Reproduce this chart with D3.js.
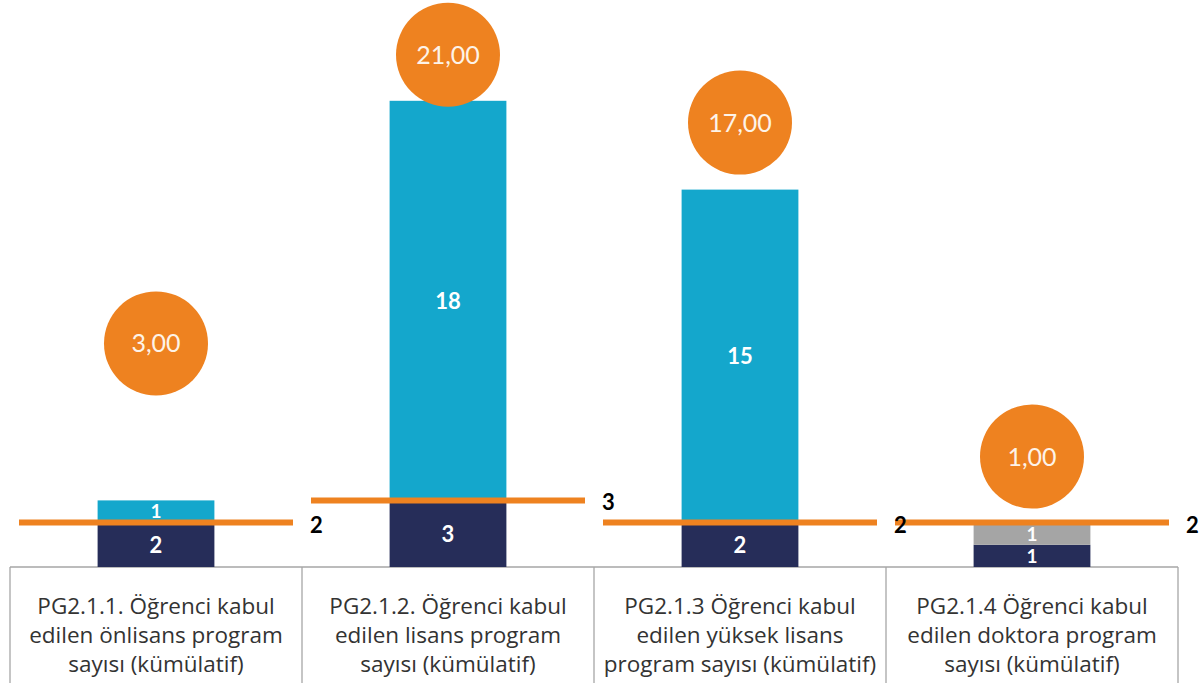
<!DOCTYPE html>
<html>
<head>
<meta charset="utf-8">
<script src="https://cdn.jsdelivr.net/npm/d3@7"></script>
<style>
  body { margin: 0; background: #fff; }
  svg { display: block; font-family: Lato, "Open Sans", sans-serif; }
</style>
</head>
<body>
<div id="container"></div>
<script>
const width = 1202,
  height = 688,
  margin = {top: 12, bottom: 121, left: 10, right: 24};

// chart values
const categories = ["PG2.1.1", "PG2.1.2", "PG2.1.3", "PG2.1.4"];
const categoryLines = [
  ["PG2.1.1. Öğrenci kabul", "edilen önlisans program", "sayısı (kümülatif)"],
  ["PG2.1.2. Öğrenci kabul", "edilen lisans program", "sayısı (kümülatif)"],
  ["PG2.1.3 Öğrenci kabul", "edilen yüksek lisans", "program sayısı (kümülatif)"],
  ["PG2.1.4 Öğrenci kabul", "edilen doktora program", "sayısı (kümülatif)"]
];
const baseValues = [2, 3, 2, 1];
const extraValues = [1, 18, 15, 0];
const otherValues = [0, 0, 0, 1];
const targetValues = [2, 3, 2, 2];
const totalValues = [3, 21, 17, 1];

// bubble label distance above the stack (layout, px)
const bubbleLift = [157, 46, 67, 66];

const colorScale = d3.scaleOrdinal()
  .domain(["base", "extra", "other"])
  .range(["#262d59", "#14a7cc", "#a5a5a5"]);
const orange = "#ee8220";

const rows = categories.map((c, i) => ({
  cat: c, i,
  base: baseValues[i], extra: extraValues[i], other: otherValues[i]
}));

const stacked = d3.stack().keys(["base", "extra", "other"])(rows);

const xScale = d3.scaleBand()
  .domain(categories)
  .range([margin.left, width - margin.right])
  .paddingInner(0).paddingOuter(0);

const yScale = d3.scaleLinear()
  .domain([0, 25])
  .range([height - margin.bottom, height - margin.bottom - 25 * 22.2]);

const barW = xScale.bandwidth() * 0.4;
const lineInset = 9;

const svg = d3.select("#container")
  .append("svg")
  .attr("width", width)
  .attr("height", height);

// category table
const tableTop = yScale(0);
const tableBottom = 683;
const table = svg.append("g").attr("class", "table");
table.append("line")
  .attr("x1", margin.left).attr("x2", width - margin.right)
  .attr("y1", tableTop).attr("y2", tableTop)
  .attr("stroke", "#a6a6a6").attr("stroke-width", 1.3);
table.selectAll("line.sep")
  .data(categories.concat(["end"]))
  .join("line")
  .attr("class", "sep")
  .attr("x1", (d, i) => i < categories.length ? xScale(d) : xScale.range()[1])
  .attr("x2", (d, i) => i < categories.length ? xScale(d) : xScale.range()[1])
  .attr("y1", tableTop).attr("y2", tableBottom)
  .attr("stroke", "#a6a6a6").attr("stroke-width", 1.3);

table.selectAll("text.cat")
  .data(categories)
  .join("text")
  .attr("class", "cat")
  .attr("text-anchor", "middle")
  .attr("fill", "#333")
  .attr("font-family", "'Open Sans', sans-serif")
  .attr("font-size", 22.5)
  .each(function(d, i) {
    d3.select(this).selectAll("tspan")
      .data(categoryLines[i])
      .join("tspan")
      .attr("x", xScale(d) + xScale.bandwidth() / 2)
      .attr("y", (t, j) => tableTop + 47 + j * 29)
      .text(t => t);
  });

// stacked bars
const layers = svg.selectAll("g.layer")
  .data(stacked)
  .join("g")
  .attr("class", "layer")
  .attr("fill", d => colorScale(d.key));

layers.selectAll("rect")
  .data(d => d)
  .join("rect")
  .attr("x", d => xScale(d.data.cat) + (xScale.bandwidth() - barW) / 2)
  .attr("y", d => yScale(d[1]))
  .attr("width", barW)
  .attr("height", d => yScale(d[0]) - yScale(d[1]));

layers.selectAll("text")
  .data(d => d.filter(s => s[1] - s[0] > 0))
  .join("text")
  .attr("x", d => xScale(d.data.cat) + xScale.bandwidth() / 2)
  .attr("y", d => (yScale(d[0]) + yScale(d[1])) / 2)
  .attr("dy", "0.36em")
  .attr("text-anchor", "middle")
  .attr("fill", "#fff")
  .attr("font-weight", "bold")
  .attr("font-size", d => (yScale(d[0]) - yScale(d[1])) < 26 ? 19 : 22)
  .text(d => d[1] - d[0]);

// target lines
const targets = svg.append("g").attr("class", "targets");
targets.selectAll("line")
  .data(targetValues)
  .join("line")
  .attr("x1", (d, i) => xScale(categories[i]) + lineInset)
  .attr("x2", (d, i) => xScale(categories[i]) + xScale.bandwidth() - lineInset)
  .attr("y1", d => yScale(d))
  .attr("y2", d => yScale(d))
  .attr("stroke", orange)
  .attr("stroke-width", 6);

targets.selectAll("text")
  .data(targetValues)
  .join("text")
  .attr("x", (d, i) => xScale(categories[i]) + xScale.bandwidth() - lineInset + 17)
  .attr("y", d => yScale(d) + 2)
  .attr("dy", "0.36em")
  .attr("fill", "#000")
  .attr("font-weight", "bold")
  .attr("font-size", 22)
  .text(d => d);

// total bubbles
const stackTop = rows.map(r => r.base + r.extra + r.other);
const bubbles = svg.selectAll("g.bubble")
  .data(totalValues)
  .join("g")
  .attr("class", "bubble")
  .attr("transform", (d, i) => `translate(${xScale(categories[i]) + xScale.bandwidth() / 2},${yScale(stackTop[i]) - bubbleLift[i]})`);

bubbles.append("circle")
  .attr("r", 52)
  .attr("fill", orange);

bubbles.append("text")
  .attr("text-anchor", "middle")
  .attr("dy", "0.36em")
  .attr("fill", "#fdf3e8")
  .attr("font-size", 25)
  .text(d => d3.format(".2f")(d).replace(".", ","));
</script>
</body>
</html>
